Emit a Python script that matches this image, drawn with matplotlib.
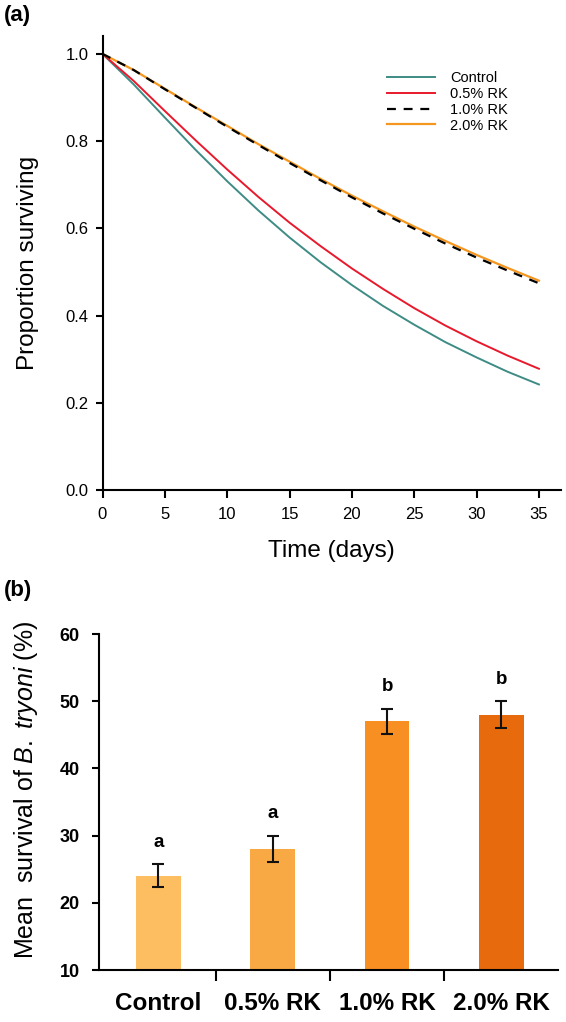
import matplotlib
matplotlib.use("Agg")
import matplotlib.pyplot as plt
from matplotlib.ticker import FixedLocator

plt.rcParams['font.family'] = ['Liberation Sans', 'DejaVu Sans']
plt.rcParams['mathtext.fontset'] = 'custom'
plt.rcParams['mathtext.rm'] = 'Liberation Sans'
plt.rcParams['mathtext.it'] = 'Liberation Sans:italic'
plt.rcParams['mathtext.bf'] = 'Liberation Sans:bold'

# ---- Panel (a) data: survival curves ----
days = [0, 2.5, 5, 7.5, 10, 12.5, 15, 17.5, 20, 22.5, 25, 27.5, 30, 32.5, 35]
control = [1.0, 0.930, 0.854, 0.779, 0.708, 0.641, 0.579, 0.522, 0.470, 0.422, 0.379, 0.339, 0.304, 0.271, 0.242]
rk05 = [1.0, 0.938, 0.869, 0.801, 0.735, 0.672, 0.613, 0.559, 0.508, 0.461, 0.417, 0.377, 0.341, 0.308, 0.278]
rk10 = [1.0, 0.963, 0.919, 0.876, 0.833, 0.791, 0.750, 0.710, 0.671, 0.634, 0.599, 0.565, 0.533, 0.503, 0.474]
rk20 = [1.0, 0.963, 0.920, 0.877, 0.835, 0.793, 0.753, 0.713, 0.675, 0.639, 0.604, 0.571, 0.539, 0.509, 0.480]
series_labels = ["Control", "0.5% RK", "1.0% RK", "2.0% RK"]
x_ticks_a = [0, 5, 10, 15, 20, 25, 30, 35]
y_ticks_a = [0.0, 0.2, 0.4, 0.6, 0.8, 1.0]

# ---- Panel (b) data: mean survival bars ----
categories = ["Control", "0.5% RK", "1.0% RK", "2.0% RK"]
means = [24, 28, 47, 48]
errors = [1.7, 2.0, 1.9, 2.0]
letters = ["a", "a", "b", "b"]
y_ticks_b = [10, 20, 30, 40, 50, 60]

line_colors = ["#3E8C85", "#E8192C", "#000000", "#F5961E"]
bar_colors = ["#FDBE62", "#F9A943", "#F78F22", "#E76B0D"]

W, H = 566, 1022
fig = plt.figure(figsize=(W / 100, H / 100), dpi=100)

def ax_rect(left, top, right, bottom):
    return [left / W, 1 - bottom / H, (right - left) / W, (bottom - top) / H]

# ---------------- Panel (a) ----------------
axA = fig.add_axes(ax_rect(102.5, 36, 561, 490))
axA.plot(days, control, color=line_colors[0], lw=1.4, label=series_labels[0])
axA.plot(days, rk05, color=line_colors[1], lw=1.4, label=series_labels[1])
axA.plot(days, rk20, color=line_colors[3], lw=1.6, label=series_labels[3], zorder=2)
axA.plot(days, rk10, color=line_colors[2], lw=1.6, ls=(0, (4, 3.5)), label=series_labels[2], zorder=3)
axA.set_xlim(0, 36.77)
axA.set_ylim(0, 1.041)
axA.set_xticks(x_ticks_a)
axA.set_yticks(y_ticks_a)
axA.set_yticklabels([f"{v:.1f}" for v in y_ticks_a])
for s in ["top", "right"]:
    axA.spines[s].set_visible(False)
for s in ["left", "bottom"]:
    axA.spines[s].set_linewidth(1.5)
axA.tick_params(axis="both", direction="out", length=5, width=1.5, labelsize=12, pad=5)
axA.tick_params(axis="x", length=6, pad=6)
axA.set_xlabel("Time (days)", fontsize=17.5, labelpad=13)
axA.set_ylabel("Proportion surviving", fontsize=17.5, labelpad=19)

handles, labs = axA.get_legend_handles_labels()
order = [labs.index(l) for l in series_labels]
leg = axA.legend([handles[i] for i in order], [labs[i] for i in order],
                 loc="upper left", bbox_to_anchor=(380 / W, 1 - 64 / H),
                 bbox_transform=fig.transFigure, frameon=False, fontsize=10.5,
                 handlelength=3.3, handletextpad=1.0, labelspacing=0.12, borderpad=0)

fig.text(4 / W, 1 - 16 / H, "(a)", fontsize=16, fontweight="bold", va="center", ha="left")

# ---------------- Panel (b) ----------------
axB = fig.add_axes(ax_rect(99, 634, 558, 970))
xpos = list(range(len(categories)))
axB.bar(xpos, [m - 10 for m in means], bottom=10, width=0.39, color=bar_colors, zorder=1)
axB.errorbar(xpos, means, yerr=errors, fmt="none", ecolor="#111111", elinewidth=1.5,
             capsize=4.5, capthick=1.5, zorder=3)
for x, m, e, lt in zip(xpos, means, errors, letters):
    axB.text(x, m + e + 3.3, lt, ha="center", va="center", fontsize=13.5, fontweight="bold")
axB.set_xlim(-0.52, 3.495)
axB.set_ylim(10, 60)
axB.set_yticks(y_ticks_b)
axB.set_yticklabels([str(v) for v in y_ticks_b], fontweight="bold")
axB.set_xticks(xpos)
axB.set_xticklabels(categories, fontsize=17.5, fontweight="bold")
axB.xaxis.set_minor_locator(FixedLocator([0.5, 1.5, 2.5, 3.5]))
axB.tick_params(axis="x", which="major", length=0, pad=16)
axB.tick_params(axis="x", which="minor", direction="out", length=8, width=1.5)
axB.tick_params(axis="y", direction="out", length=5, width=1.5, labelsize=13, pad=9)
for s in ["top", "right"]:
    axB.spines[s].set_visible(False)
for s in ["left", "bottom"]:
    axB.spines[s].set_linewidth(1.5)
axB.set_ylabel(r"Mean  survival of $\mathit{B.\ tryoni}$ (%)", fontsize=18)
axB.yaxis.set_label_coords(-0.129, 0.535)

fig.text(4 / W, 1 - 590 / H, "(b)", fontsize=16, fontweight="bold", va="center", ha="left")

fig.savefig("out.png", dpi=100)
